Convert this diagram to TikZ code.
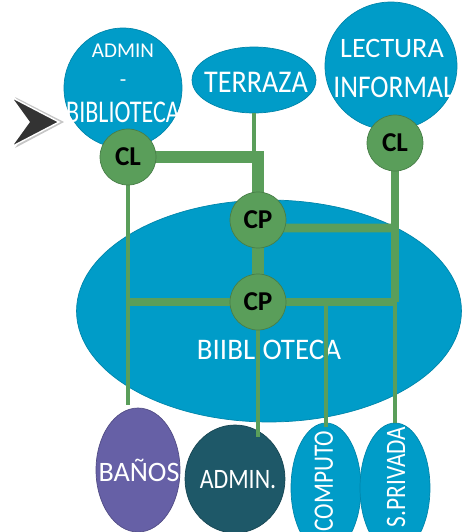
\documentclass[tikz,border=0pt]{standalone}
\usepackage{fontspec}
\setmainfont{Carlito}
\usetikzlibrary{shapes.geometric}
\definecolor{azul}{RGB}{0,156,200}
\definecolor{verde}{RGB}{90,158,90}
\definecolor{morado}{RGB}{102,96,166}
\definecolor{petroleo}{RGB}{30,88,104}
\pgfdeclarelayer{fondo}
\pgfdeclarelayer{lineas}
\pgfsetlayers{fondo,lineas,main}
\newcommand{\estrecho}[2]{\scalebox{#1}[1]{#2}}
\tikzset{
	sala/.style={ellipse, fill=azul, draw=azul!85!black, line width=0.4pt, inner sep=0pt},
	cruce/.style={circle, fill=verde, draw=verde!80!black, line width=0.4pt, minimum size=1.12cm, inner sep=0pt, font=\fontsize{15.5}{16}\selectfont\bfseries},
	rotulo/.style={text=white, inner sep=0pt, anchor=base},
	grueso/.style={verde, line width=6.8pt},
	medio/.style={verde, line width=5.1pt},
	fino/.style={verde, line width=2.8pt}
}
\begin{document}
\begin{tikzpicture}[x=0.02cm, y=-0.02cm]
	\useasboundingbox (0,0) rectangle (461,532);

	\begin{pgfonlayer}{fondo}
	\node [sala, minimum width=7.7cm, minimum height=4.44cm] (biblio) at (269,311) {};
	\node [sala, minimum width=2.36cm, minimum height=2.4cm] (adminbib) at (123,88) {};
	\node [sala, minimum width=2.48cm, minimum height=1.32cm] (terraza) at (254,80) {};
	\node [sala, minimum width=2.64cm, minimum height=2.56cm] (lectura) at (391,66) {};
	\node [sala, fill=morado, draw=morado!80!black, minimum width=1.68cm, minimum height=2.48cm] (banos) at (138,470) {};
	\node [sala, fill=petroleo, draw=petroleo!80!black, minimum width=2cm, minimum height=2.16cm] (admin) at (235,479) {};
	\node [sala, minimum width=1.4cm, minimum height=2.6cm] (computo) at (326,488) {};
	\node [sala, minimum width=1.4cm, minimum height=2.6cm] (privada) at (395,488) {};

	\node [rotulo, font=\fontsize{12}{12}\selectfont] (adminbib-a) at (123,57) {ADMIN};
	\node [rotulo, font=\fontsize{12}{12}\selectfont] (adminbib-b) at (123,86) {-};
	\node [rotulo, font=\fontsize{18}{18}\selectfont] (adminbib-c) at (123,122) {\estrecho{0.76}{BIBLIOTECA}};
	\node [rotulo, font=\fontsize{18}{18}\selectfont] (terraza-t) at (256,92) {\estrecho{0.89}{TERRAZA}};
	\node [rotulo, font=\fontsize{16}{16}\selectfont] (lectura-a) at (392,57) {LECTURA};
	\node [rotulo, font=\fontsize{18}{18}\selectfont] (lectura-b) at (394,97) {\estrecho{0.87}{INFORMAL}};
	\node [rotulo, font=\fontsize{17}{17}\selectfont] (biblio-t) at (269,359) {\estrecho{0.97}{BIIBLIOTECA}};
	\node [rotulo, font=\fontsize{16}{16}\selectfont] (banos-t) at (139,481) {BAÑOS};
	\node [rotulo, font=\fontsize{16}{16}\selectfont] (admin-t) at (238,488) {\estrecho{0.85}{ADMIN.}};
	\node [rotulo, rotate=90, font=\fontsize{16}{16}\selectfont] (computo-t) at (333,481) {\estrecho{0.83}{COMPUTO}};
	\node [rotulo, rotate=90, font=\fontsize{16}{16}\selectfont] (privada-t) at (405,477) {\estrecho{0.83}{S.PRIVADA}};
	\end{pgfonlayer}

	\node [cruce] (clA) at (128,157) {CL};
	\node [cruce] (clB) at (395,143) {CL};
	\node [cruce] (cpA) at (258,220) {CP};
	\node [cruce] (cpB) at (258,302) {CP};

	\coordinate (j1) at (258,157);
	\coordinate (j2) at (395,228);
	\coordinate (j3) at (395,302);
	\coordinate (j4) at (128,302);
	\coordinate (j5) at (326,302);

	\begin{pgfonlayer}{lineas}
	\draw [grueso] (clA.center) -- (j1) -- (cpA.center) -- (cpB.center);
	\draw [fino] (terraza.south) -- (terraza.south |- j1);
	\draw [medio] ([yshift=-0.16cm]cpA.center) -- (j2);
	\draw [medio, line width=4.6pt] (clB.center) -- (j3);
	\draw [medio] (j4) -- (j3);
	\draw [fino] (clA.center) -- ([yshift=0.06cm]clA.center |- banos.north);
	\draw [fino] (cpB.center) -- ([yshift=-0.24cm]cpB.center |- admin.north);
	\draw [fino] (j5) -- ([yshift=-0.08cm]computo.north);
	\draw [fino] (j3) -- (privada.north);
	\end{pgfonlayer}

	\fill [gray!45] (15,97) -- (64,122) -- (15,148) -- (34,122) -- cycle;
	\filldraw [fill=black!80, draw=white, line width=0.8pt] (11,97) -- (59,122) -- (11,147) -- (29,122) -- cycle;
\end{tikzpicture}
\end{document}
